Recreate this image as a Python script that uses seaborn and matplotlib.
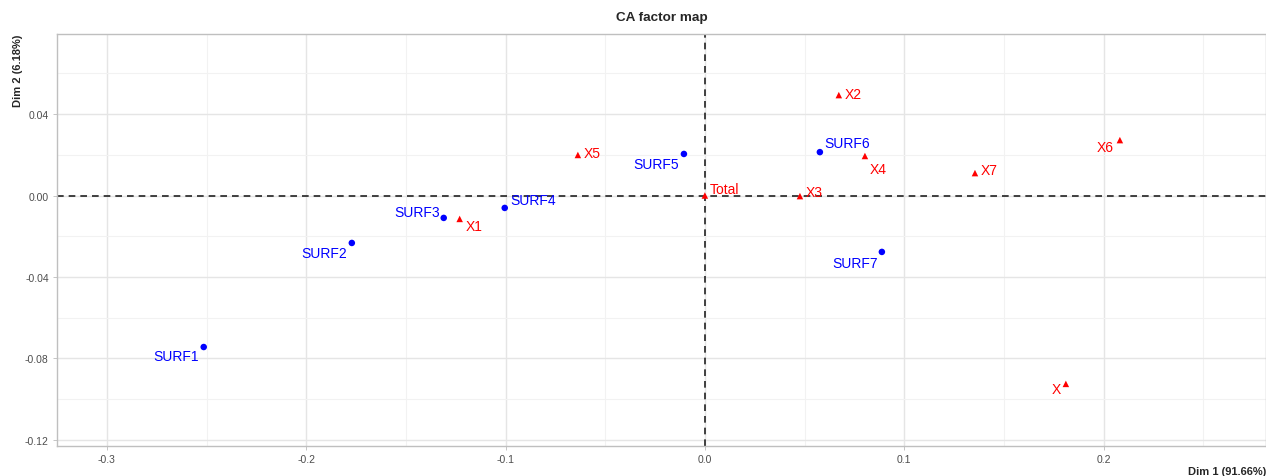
import numpy as np
import pandas as pd
import seaborn as sns
import matplotlib.pyplot as plt
from matplotlib.ticker import MultipleLocator, FormatStrFormatter

# CA coordinates
row_names = ['SURF1', 'SURF2', 'SURF3', 'SURF4', 'SURF5', 'SURF6', 'SURF7']
row_dim1 = [-0.2514, -0.1771, -0.1310, -0.1004, -0.0105, 0.0577, 0.0888]
row_dim2 = [-0.0744, -0.0233, -0.0110, -0.0061, 0.0204, 0.0213, -0.0277]

col_names = ['X1', 'X2', 'X3', 'X4', 'X5', 'X6', 'X7', 'X', 'Total']
col_dim1 = [-0.1230, 0.0672, 0.0477, 0.0803, -0.0637, 0.2082, 0.1355, 0.1811, 0.0]
col_dim2 = [-0.0115, 0.0493, -0.0003, 0.0194, 0.0199, 0.0272, 0.0110, -0.0925, 0.0]

# label offsets (pixels) so the text sits like ggrepel put it
label_offsets = {
    'SURF1': (-28, -9), 'SURF2': (-28, -10), 'SURF3': (-27, 6), 'SURF4': (28, 8),
    'SURF5': (-28, -10), 'SURF6': (27, 9), 'SURF7': (-27, -11),
    'X1': (14, -7), 'X2': (14, 1), 'X3': (14, 4), 'X4': (13, -13), 'X5': (14, 2),
    'X6': (-15, -7), 'X7': (14, 3), 'X': (-10, -5), 'Total': (20, 7),
}

df = pd.concat([
    pd.DataFrame({'name': row_names, 'Dim1': row_dim1, 'Dim2': row_dim2, 'type': 'row'}),
    pd.DataFrame({'name': col_names, 'Dim1': col_dim1, 'Dim2': col_dim2, 'type': 'col'}),
], ignore_index=True)

sns.set_theme(style='whitegrid')
plt.rcParams['font.family'] = ['Liberation Sans', 'DejaVu Sans']

fig = plt.figure(figsize=(12.66, 4.77), dpi=100)
ax = fig.add_axes([57 / 1266, 30 / 477, 1 - 57 / 1266, 412 / 477])

palette = {'row': '#0000FF', 'col': '#FF0000'}
markers = {'row': 'o', 'col': '^'}
sns.scatterplot(data=df, x='Dim1', y='Dim2', hue='type', style='type',
                palette=palette, markers=markers, s=22, linewidth=0,
                legend=False, ax=ax, zorder=3)

ax.axhline(0, color='#222222', linestyle=(0, (4, 3)), linewidth=1.2, zorder=2)
ax.axvline(0, color='#222222', linestyle=(0, (4, 3)), linewidth=1.2, zorder=2)

for _, r in df.iterrows():
    dx, dy = label_offsets[r['name']]
    ax.annotate(r['name'], (r['Dim1'], r['Dim2']), xytext=(dx, dy),
                textcoords='offset pixels', ha='center', va='center',
                color=palette[r['type']], fontsize=10, zorder=4)

ax.set_xlim(-0.325, 0.2815)
ax.set_ylim(-0.123, 0.0793)
ax.xaxis.set_major_locator(MultipleLocator(0.1))
ax.xaxis.set_minor_locator(MultipleLocator(0.05))
ax.yaxis.set_major_locator(MultipleLocator(0.04))
ax.yaxis.set_minor_locator(MultipleLocator(0.02))
ax.xaxis.set_major_formatter(FormatStrFormatter('%.1f'))
ax.yaxis.set_major_formatter(FormatStrFormatter('%.2f'))

ax.grid(which='major', color='#E5E5E5', linewidth=1.0)
ax.grid(which='minor', color='#F2F2F2', linewidth=0.8)
ax.tick_params(which='major', length=3, width=0.6, color='#BBBBBB',
               labelsize=7.5, labelcolor='#4D4D4D', pad=3,
               bottom=True, left=True)
ax.tick_params(which='minor', length=0)
for sp in ax.spines.values():
    sp.set_color('#BFBFBF')
    sp.set_linewidth(1.0)

ax.set_title('CA factor map', fontsize=9.7, fontweight='bold', pad=10)
ax.set_xlabel('Dim 1 (91.66%)', fontsize=8, fontweight='bold', loc='right', labelpad=1)
ax.set_ylabel('Dim 2 (6.18%)', fontsize=8, fontweight='bold', loc='top', labelpad=1)

fig.savefig('out.png', dpi=100)
